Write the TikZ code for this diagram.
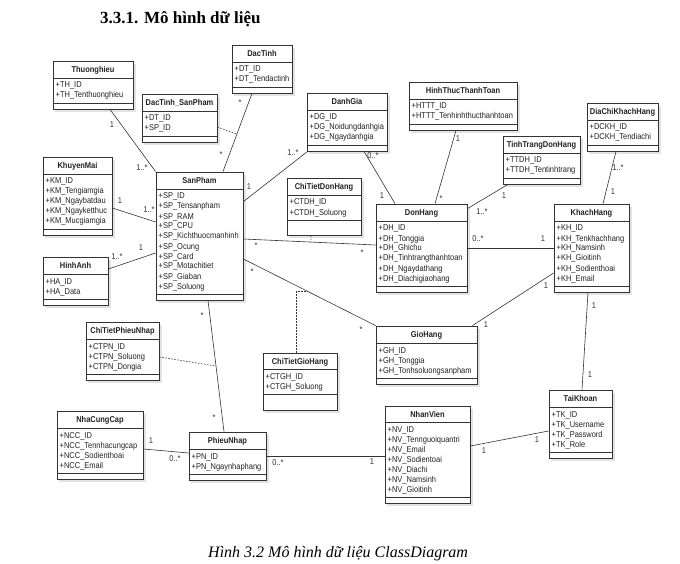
\documentclass[tikz,border=0pt]{standalone}
\usepackage{fontspec}
\setmainfont{Liberation Serif}
\newfontfamily\boxfont[FakeStretch=0.88]{Liberation Sans}
\usetikzlibrary{fit}
\definecolor{lnc}{HTML}{333333}
\definecolor{txc}{HTML}{222222}
\definecolor{shc}{HTML}{E2E2E2}
\tikzset{
  classbox/.style={draw=lnc, line width=0.8pt, inner sep=0pt, fill=white},
  hdr/.style={font=\boxfont\fontsize{8.5}{10}\selectfont\bfseries, text=txc, inner sep=0pt, anchor=base},
  attr/.style={font=\boxfont\fontsize{8.5}{10}\selectfont, text=txc, inner sep=0pt, anchor=base west},
  mult/.style={font=\boxfont\fontsize{8.5}{10}\selectfont, text=lnc, inner sep=0pt},
  assoc/.style={draw=lnc, line width=0.6pt},
  dashlink/.style={draw=lnc, line width=0.6pt, dash pattern=on 1.5pt off 1.5pt},
}
% name, x1, y0, x2, hy, ay, y1, title, attrs
\newcommand\umlbox[9]{%
  \fill[shc] ({#2+2},{#3+3}) rectangle ({#4+3},{#7+3});
  \node[classbox, fit={(#2,#3) (#4,#7)}] (#1) {};
  \draw[lnc, line width=0.8pt] (#2,#5) -- (#4,#5) (#2,#6) -- (#4,#6);
  \node[hdr] (#1-t) at ({(#2+#4)/2},{(#3+#5)/2+3}) {#8};
  \foreach \a [count=\i] in {#9} {\node[attr] (#1-a\i) at ({#2+2.5},{#5+10*\i}) {\a};}%
}
\begin{document}
\begin{tikzpicture}[x=1pt,y=-1pt]
\useasboundingbox[fill=white] (0,0) rectangle (680,564);

\node[anchor=base west, font=\fontsize{17}{20}\selectfont\bfseries, text=black, inner sep=0pt] (title) at (100,24) {3.3.1. Mô hình dữ liệu};
\node[anchor=base west, font=\fontsize{16}{19}\selectfont\itshape, text=black, inner sep=0pt] (caption) at (208,557) {Hình 3.2 Mô hình dữ liệu ClassDiagram};

% boxes
\umlbox{th}{53}{61}{133}{78}{103}{109}{Thuonghieu}{+TH\_ID,+TH\_Tenthuonghieu}
\umlbox{dt}{232}{45}{292}{62}{87}{93}{DacTinh}{+DT\_ID,+DT\_Tendactinh}
\umlbox{dtsp}{142}{94}{217}{111}{136}{142}{DacTinh\_SanPham}{+DT\_ID,+SP\_ID}
\umlbox{dg}{307}{93}{387}{110}{145}{151}{DanhGia}{+DG\_ID,+DG\_Noidungdanhgia,+DG\_Ngaydanhgia}
\umlbox{httt}{409}{82}{517}{99}{124}{130}{HinhThucThanhToan}{+HTTT\_ID,+HTTT\_Tenhinhthucthanhtoan}
\umlbox{dckh}{587}{103}{658}{120}{145}{151}{DiaChiKhachHang}{+DCKH\_ID,+DCKH\_Tendiachi}
\umlbox{ttdh}{503}{136}{580}{153}{178}{184}{TinhTrangDonHang}{+TTDH\_ID,+TTDH\_Tentinhtrang}
\umlbox{km}{43}{157}{112}{174}{229}{235}{KhuyenMai}{+KM\_ID,+KM\_Tengiamgia,+KM\_Ngaybatdau,+KM\_Ngayketthuc,+KM\_Mucgiamgia}
\umlbox{sp}{156}{172}{243}{189}{294}{300}{SanPham}{+SP\_ID,+SP\_Tensanpham,+SP\_RAM,+SP\_CPU,+SP\_Kichthuocmanhinh,+SP\_Ocung,+SP\_Card,+SP\_Motachitiet,+SP\_Giaban,+SP\_Soluong}
\umlbox{ha}{43}{257}{108}{274}{299}{305}{HinhAnh}{+HA\_ID,+HA\_Data}
\umlbox{ctdh}{287}{178}{361}{195}{220}{235}{ChiTietDonHang}{+CTDH\_ID,+CTDH\_Soluong}
\umlbox{dh}{376}{204}{467}{221}{286}{292}{DonHang}{+DH\_ID,+DH\_Tonggia,+DH\_Ghichu,+DH\_Tinhtrangthanhtoan,+DH\_Ngaydathang,+DH\_Diachigiaohang}
\umlbox{kh}{554}{204}{629}{221}{286}{292}{KhachHang}{+KH\_ID,+KH\_Tenkhachhang,+KH\_Namsinh,+KH\_Gioitinh,+KH\_Sodienthoai,+KH\_Email}
\umlbox{gh}{376}{326}{477}{343}{378}{384}{GioHang}{+GH\_ID,+GH\_Tonggia,+GH\_Tonhsoluongsanpham}
\umlbox{ctpn}{86}{322}{159}{339}{374}{380}{ChiTietPhieuNhap}{+CTPN\_ID,+CTPN\_Soluong,+CTPN\_Dongia}
\umlbox{ctgh}{263}{353}{337}{369}{394}{410}{ChiTietGioHang}{+CTGH\_ID,+CTGH\_Soluong}
\umlbox{ncc}{57}{411}{143}{428}{473}{479}{NhaCungCap}{+NCC\_ID,+NCC\_Tennhacungcap,+NCC\_Sodienthoai,+NCC\_Email}
\umlbox{pn}{189}{432}{266}{449}{474}{480}{PhieuNhap}{+PN\_ID,+PN\_Ngaynhaphang}
\umlbox{nv}{385}{406}{470}{422}{497}{503}{NhanVien}{+NV\_ID,+NV\_Tennguoiquantri,+NV\_Email,+NV\_Sodientoai,+NV\_Diachi,+NV\_Namsinh,+NV\_Gioitinh}
\umlbox{tk}{549}{390}{612}{407}{452}{458}{TaiKhoan}{+TK\_ID,+TK\_Username,+TK\_Password,+TK\_Role}

% connectors
\draw[assoc] ([xshift=17pt]th.south) -- (sp.north west);
\draw[assoc] ([xshift=-10pt]dt.south) -- coordinate[pos=0.52] (dtmid) ([xshift=23.5pt]sp.north);
\draw[dashlink] ([yshift=-9pt]dtsp.east) -- (dtmid);
\draw[assoc] ([yshift=-30pt]sp.north east) -- ([xshift=1pt]dg.south west);
\draw[assoc] ([xshift=17pt]dg.south) -- ([xshift=-26.5pt]dh.north);
\draw[assoc] ([xshift=-7pt]httt.south) -- ([xshift=13.5pt]dh.north);
\draw[assoc] ([xshift=-33.5pt]ttdh.south) -- ([yshift=-5pt]dh.north east);
\draw[assoc] ([xshift=-6.5pt]dckh.south) -- ([xshift=11.5pt]kh.north);
\draw[assoc] (dh.east) -- (kh.west);
\draw[assoc] ([yshift=-12pt]km.east) -- ([yshift=14pt]sp.west);
\draw[assoc] ([yshift=12pt]ha.east) -- ([yshift=-17pt]sp.west);
\draw[assoc] ([yshift=-3pt]sp.east) -- coordinate[pos=0.51] (ctdhpt) ([yshift=3pt]dh.west);
\draw[dashlink] ([xshift=-13pt]ctdh.south) -- (ctdhpt);
\draw[assoc] ([yshift=-23pt]sp.east) -- coordinate[pos=0.49] (ctghpt) (gh.north west);
\draw[dashlink] ([xshift=-4pt]ctgh.north) |- (ctghpt);
\draw[assoc] ([xshift=-5pt]gh.north east) -- ([yshift=-25pt]kh.west);
\draw[assoc] ([xshift=-3.5pt]kh.south) -- ([xshift=1.5pt]tk.north);
\draw[assoc] ([yshift=8.5pt]nv.east) -- ([yshift=-7pt]tk.west);
\draw[assoc] (pn.east) -- (pn.east -| nv.west);
\draw[assoc] ([yshift=-4pt]ncc.east) -- ([yshift=3pt]pn.west);
\draw[assoc] ([xshift=8.5pt]sp.south) -- coordinate[pos=0.5] (ctpnpt) ([xshift=-3.5pt]pn.north);
\draw[dashlink] ([yshift=-6pt]ctpn.east) -- (ctpnpt);

% multiplicities
\node[mult] (m1) at (112,125) {1};
\node[mult] (m2) at (142,168) {1..*};
\node[mult] (m3) at (240,103) {*};
\node[mult] (m4) at (221,155) {*};
\node[mult] (m5) at (249,187) {1};
\node[mult] (m6) at (293,153) {1..*};
\node[mult] (m7) at (373,156) {0..*};
\node[mult] (m8) at (382,196) {1};
\node[mult] (m9) at (458,139) {1};
\node[mult] (m10) at (441,199) {*};
\node[mult] (m11) at (504,196) {1};
\node[mult] (m12) at (482,212) {1..*};
\node[mult] (m13) at (618,168) {1..*};
\node[mult] (m14) at (613,192) {1};
\node[mult] (m15) at (478,239) {0..*};
\node[mult] (m16) at (543,239) {1};
\node[mult] (m17) at (120,201) {1};
\node[mult] (m18) at (149,210) {1..*};
\node[mult] (m19) at (141,248) {1};
\node[mult] (m20) at (117,257) {1..*};
\node[mult] (m21) at (256,246) {*};
\node[mult] (m22) at (362,253) {*};
\node[mult] (m23) at (252,272) {*};
\node[mult] (m24) at (361,330) {*};
\node[mult] (m25) at (546,286) {1};
\node[mult] (m26) at (486,325) {1};
\node[mult] (m27) at (594,306) {1};
\node[mult] (m28) at (590,375) {1};
\node[mult] (m29) at (484,451) {1};
\node[mult] (m30) at (537,440) {1};
\node[mult] (m31) at (278,463) {0..*};
\node[mult] (m32) at (372,462) {1};
\node[mult] (m33) at (151,441) {1};
\node[mult] (m34) at (175,459) {0..*};
\node[mult] (m35) at (202,316) {*};
\node[mult] (m36) at (214,418) {*};
\end{tikzpicture}
\end{document}
